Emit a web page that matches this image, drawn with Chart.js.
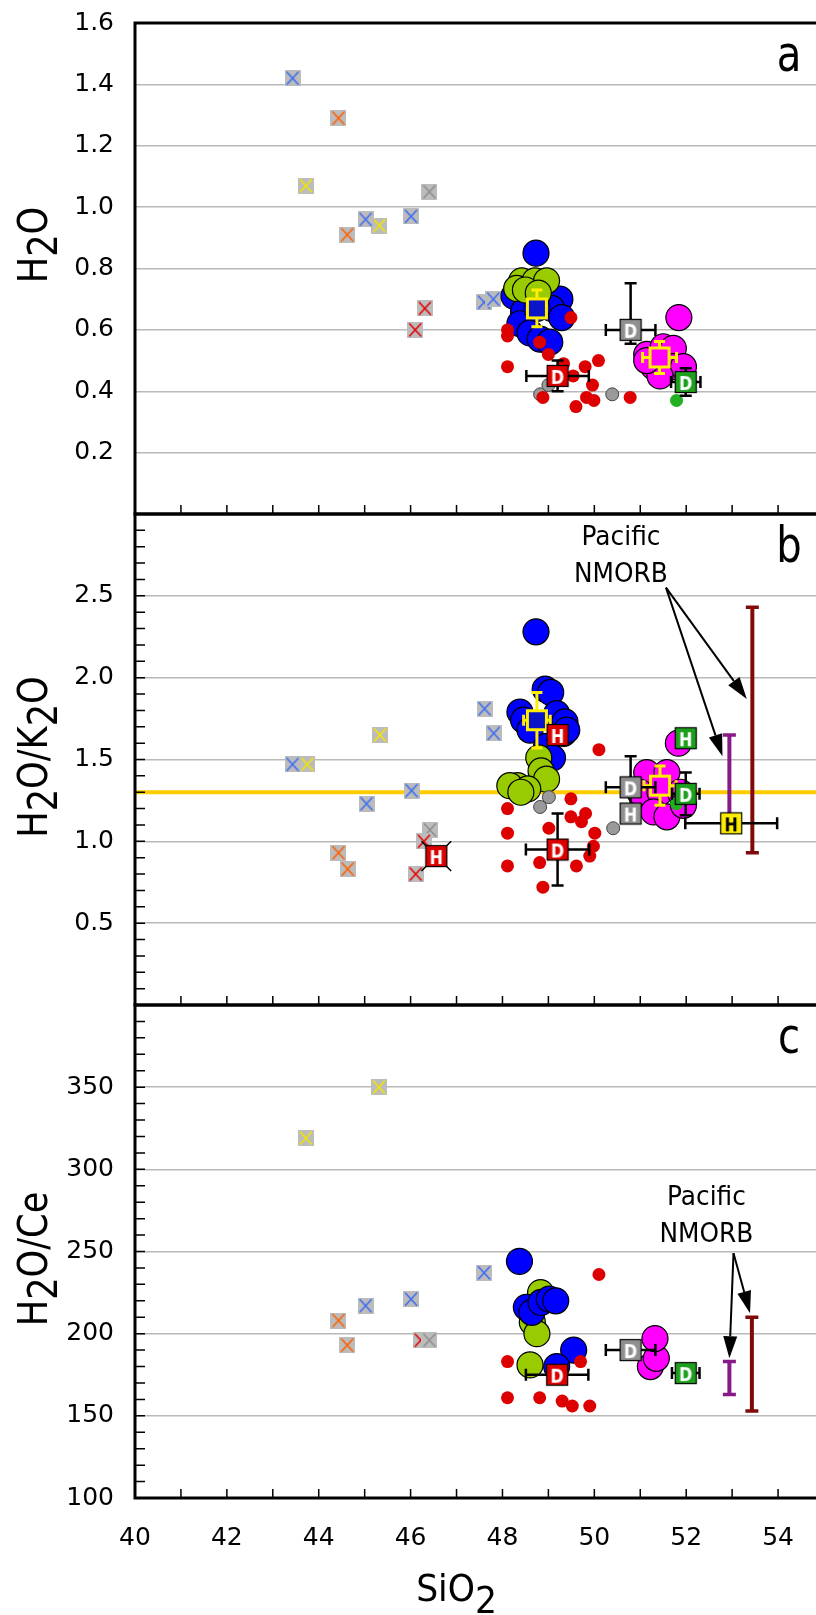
<!DOCTYPE html>
<html>
<head>
<meta charset="utf-8">
<title>H2O, H2O/K2O and H2O/Ce vs SiO2</title>
<script src="https://cdn.jsdelivr.net/npm/chart.js@4.4.1/dist/chart.umd.min.js"></script>
<style>
  html, body { margin: 0; padding: 0; background: #fff; overflow: hidden; }
  #wrap { position: relative; width: 824px; height: 1615px; }
  #wrap canvas { position: absolute; left: 0; }
</style>
</head>
<body>
<div id="wrap">
  <canvas id="chartA" width="824" height="520" style="top:0"></canvas>
  <canvas id="chartB" width="824" height="506" style="top:506px"></canvas>
  <canvas id="chartC" width="824" height="617" style="top:998px"></canvas>
</div>
<script>
// ---- axes ----
const sio2Ticks = [40, 42, 44, 46, 48, 50, 52, 54];
const h2oTicks = [0.2, 0.4, 0.6, 0.8, 1.0, 1.2, 1.4, 1.6];
const h2oK2oTicks = [0.5, 1.0, 1.5, 2.0, 2.5];
const h2oCeTicks = [100, 150, 200, 250, 300, 350];

// ---- panel a: H2O ----
const aXBlue = [[43.43, 1.42], [45.02, 0.96], [46.01, 0.97], [47.60, 0.69], [47.80, 0.70]];
const aXOrange = [[44.43, 1.29], [44.62, 0.91]];
const aXYellow = [[43.72, 1.07], [45.32, 0.94]];
const aXGray = [[46.41, 1.05]];
const aXRed = [[46.31, 0.67], [46.10, 0.60]];
const aBlue = [[48.73, 0.85], [48.25, 0.71], [49.25, 0.70], [48.46, 0.66], [49.07, 0.67], [49.29, 0.64],
  [48.38, 0.62], [48.60, 0.59], [48.82, 0.57], [49.03, 0.56], [48.75, 0.67]];
const aGreen = [[48.42, 0.76], [48.71, 0.76], [48.96, 0.76], [48.31, 0.735], [48.50, 0.73], [48.78, 0.72]];
const aGray = [[48.82, 0.39], [49.00, 0.42], [50.39, 0.39]];
const aRed = [[48.11, 0.60], [48.11, 0.58], [49.49, 0.64], [48.81, 0.56], [49.00, 0.52], [48.11, 0.48],
  [49.33, 0.49], [49.80, 0.48], [50.09, 0.50], [49.96, 0.42], [49.83, 0.38], [49.99, 0.37],
  [49.60, 0.35], [48.88, 0.38], [50.78, 0.38], [49.54, 0.45]];
const aMagenta = [[51.84, 0.64], [51.14, 0.52], [51.50, 0.545], [51.72, 0.54], [51.29, 0.48],
  [51.72, 0.48], [51.94, 0.48], [51.43, 0.45], [51.14, 0.50]];
const aGreenDot = [[51.79, 0.37]];
// [SiO2, value, SiO2 error, value error]
const aMeanBlue = [[48.75, 0.67, 0, 0.06]];
const aMeanMagenta = [[51.42, 0.51, 0.37, 0.052]];
// [SiO2, value, label, SiO2 error, value error (or [minus, plus])]
const aRedSq = [[49.20, 0.45, 'D', 0.68, 0.05]];
const aGraySq = [[50.79, 0.60, 'D', 0.54, [0.045, 0.152]]];
const aGreenSq = [[51.99, 0.43, 'D', 0.32, 0.045]];

// ---- panel b: H2O/K2O ----
const bXBlue = [[43.43, 1.47], [45.04, 1.23], [46.02, 1.31], [47.61, 1.81], [47.81, 1.66]];
const bXYellow = [[43.75, 1.47], [45.33, 1.65]];
const bXOrange = [[44.43, 0.93], [44.63, 0.83]];
const bXGray = [[46.42, 1.07]];
const bXRed = [[46.29, 1.00], [46.11, 0.80]];
const bXBlack = [[46.56, 0.91]];
const bBlue = [[48.73, 2.28], [48.93, 1.93], [49.05, 1.91], [48.38, 1.79], [49.18, 1.78], [49.36, 1.73],
  [48.46, 1.74], [48.60, 1.68], [49.33, 1.66], [49.40, 1.68], [48.96, 1.58], [49.09, 1.51]];
const bGreen = [[48.79, 1.51], [48.84, 1.43], [48.96, 1.38], [48.33, 1.34], [48.16, 1.34], [48.55, 1.32], [48.40, 1.30]];
const bGray = [[49.01, 1.27], [48.82, 1.21], [50.41, 1.08]];
const bRed = [[48.11, 1.20], [48.11, 1.05], [48.11, 0.85], [49.49, 1.26], [49.49, 1.15], [49.81, 1.17],
  [49.72, 1.12], [50.01, 1.05], [49.98, 0.97], [49.90, 0.91], [49.61, 0.85], [48.81, 0.87],
  [49.01, 1.08], [50.10, 1.56], [48.88, 0.72]];
const bMagenta = [[51.83, 1.60], [51.14, 1.42], [51.58, 1.42], [50.99, 1.30], [51.43, 1.30], [51.87, 1.30],
  [51.29, 1.18], [51.58, 1.15], [51.94, 1.22]];
const bGreenDot = [[51.79, 1.23]];
const bMeanBlue = [[48.75, 1.74, 0.29, 0.17]];
const bMeanMagenta = [[51.43, 1.34, 0.35, 0.12]];
const bRedSq = [[46.56, 0.91, 'H', 0, 0], [49.20, 1.65, 'H', 0, 0], [49.20, 0.95, 'D', 0.69, 0.22]];
const bGraySq = [[50.79, 1.33, 'D', 0.54, 0.19], [50.79, 1.17, 'H', 0, 0]];
const bGreenSq = [[51.99, 1.29, 'D', 0.30, 0.13], [51.99, 1.63, 'H', 0, 0]];
const bYellowSq = [[52.98, 1.11, 'H', 1.0, 0]];
const bRef = 1.3;
// Pacific NMORB ranges: [SiO2, low, high]
const bNmorb = [[52.94, 1.11, 1.65], [53.44, 0.93, 2.43]];

// ---- panel c: H2O/Ce ----
const cXYellow = [[45.31, 350], [43.72, 319]];
const cXBlue = [[45.02, 217], [46.01, 221], [47.60, 237]];
const cXOrange = [[44.43, 208], [44.62, 193]];
const cXGray = [[46.41, 196]];
const cXRed = [[46.22, 196]];
const cGreen = [[48.83, 225], [48.65, 207], [48.75, 200], [48.60, 181]];
const cBlue = [[48.37, 244], [48.52, 216], [48.64, 213], [48.84, 219], [49.02, 221], [49.16, 220], [49.55, 190], [49.18, 180]];
const cRed = [[48.11, 183], [50.10, 236], [49.70, 183], [48.11, 161], [48.81, 161], [49.30, 159], [49.52, 156], [49.90, 156]];
const cMagenta = [[51.22, 180], [51.35, 185], [51.32, 197]];
const cRedSq = [[49.19, 175, 'D', 0.68, 0]];
const cGraySq = [[50.79, 190, 'D', 0.54, 0]];
const cGreenSq = [[51.99, 176, 'D', 0.30, 0]];
const cNmorb = [[52.94, 163, 183], [53.43, 153, 210]];

const nmorbColors = ['#861a86', '#800a0a'];
const X_BLUE = '#3d6cf5', X_ORANGE = '#ff6000', X_YELLOW = '#f2e600', X_RED = '#e80000', X_GRAY = '#8e8e8e';

Chart.defaults.font.family = '"DejaVu Sans", sans-serif';

// ---- marker sprites ----
const SPRITES = {};
function sprite(key, size, paint) {
  if (!SPRITES[key]) {
    const c = document.createElement('canvas');
    c.width = size; c.height = size;
    paint(c.getContext('2d'), size);
    SPRITES[key] = c;
  }
  return SPRITES[key];
}
function crossMark(color) {
  return sprite('x' + color, 16, (g, s) => {
    g.fillStyle = '#bcbcbc';
    g.fillRect(0, 0, s, s);
    g.strokeStyle = color;
    g.lineWidth = 1.6;
    g.beginPath();
    g.moveTo(2, 1.5); g.lineTo(s - 2, s - 1.5);
    g.moveTo(s - 2, 1.5); g.lineTo(2, s - 1.5);
    g.stroke();
  });
}
function letterMark(fill, ink, letter) {
  return sprite('l' + fill + letter, 24, (g, s) => {
    g.fillStyle = fill;
    g.fillRect(1, 1, s - 2, s - 2);
    g.strokeStyle = '#000';
    g.lineWidth = 1.2;
    g.strokeRect(1.5, 1.5, s - 3, s - 3);
    g.translate(s / 2, s / 2);
    g.scale(0.8, 1);
    g.fillStyle = ink;
    g.font = 'bold 20px "DejaVu Sans"';
    g.textAlign = 'center';
    g.fillText(letter, 0, 7.5);
  });
}
function meanMark(fill) {
  return sprite('m' + fill, 26, (g, s) => {
    g.fillStyle = fill;
    g.fillRect(3, 3, s - 6, s - 6);
    g.strokeStyle = '#ffee00';
    g.lineWidth = 3;
    g.strokeRect(3.5, 3.5, s - 7, s - 7);
  });
}

// ---- dataset builders ----
const pts = arr => arr.map(([x, y]) => ({ x, y }));
const crosses = (arr, color) => ({ data: pts(arr), pointStyle: crossMark(color), pointRadius: 8 });
const bareX = (arr, color) => ({ data: pts(arr), pointStyle: 'crossRot', pointRadius: 21, pointBorderColor: color, pointBorderWidth: 1.5 });
const circles = (arr, fill) => ({ data: pts(arr), pointRadius: 13, pointBackgroundColor: fill, pointBorderColor: '#000', pointBorderWidth: 1.2 });
const dots = (arr, fill, edge) => ({ data: pts(arr), pointRadius: 6.5, pointBackgroundColor: fill, pointBorderColor: edge || fill, pointBorderWidth: edge ? 1 : 0 });
const means = (arr, fill) => ({
  data: arr.map(([x, y, xe, ye]) => ({ x, y, xe, ye })),
  pointStyle: meanMark(fill), pointRadius: 12, barColor: '#ffee00', barWidth: 3, capHalf: 5.5
});
const lettered = (arr, fill, ink) => ({
  data: arr.map(([x, y, t, xe, ye]) => ({ x, y, t, xe, ye })),
  pointStyle: c => (c.raw ? letterMark(fill, ink || '#fff', c.raw.t) : 'rect'),
  pointRadius: 11, barColor: '#000', barWidth: 2.5, capHalf: 6
});

function subWidth(ctx, text) { return ctx.measureText(text.replace(/_/g, '')).width; }
// '_' lowers the following character
function subText(ctx, text, x, y, drop) {
  for (let i = 0; i < text.length; i++) {
    let ch = text[i], dy = 0;
    if (ch === '_') { ch = text[++i]; dy = drop; }
    ctx.fillText(ch, x, y + dy);
    x += ctx.measureText(ch).width;
  }
}
function arrow(ctx, x0, y0, x1, y1) {
  const ang = Math.atan2(y1 - y0, x1 - x0), len = 22, half = 7;
  const bx = x1 - len * Math.cos(ang), by = y1 - len * Math.sin(ang);
  ctx.lineWidth = 2;
  ctx.beginPath(); ctx.moveTo(x0, y0); ctx.lineTo(bx, by); ctx.stroke();
  ctx.beginPath();
  ctx.moveTo(x1, y1);
  ctx.lineTo(bx + half * Math.sin(ang), by - half * Math.cos(ang));
  ctx.lineTo(bx - half * Math.sin(ang), by + half * Math.cos(ang));
  ctx.closePath(); ctx.fill();
}

function panelDecor(p) {
  return {
    id: 'decor' + p.letter,
    beforeDatasetsDraw(chart) {
      const { ctx, chartArea: a, scales: { x, y } } = chart;
      ctx.save();
      ctx.beginPath(); ctx.rect(a.left, a.top, a.width, a.height); ctx.clip();
      if (p.ref != null) {
        const py = y.getPixelForValue(p.ref);
        ctx.strokeStyle = '#ffcc00'; ctx.lineWidth = 4;
        ctx.beginPath(); ctx.moveTo(a.left, py); ctx.lineTo(a.right, py); ctx.stroke();
      }
      (p.nmorb || []).forEach(([vx, lo, hi], i) => {
        const px = x.getPixelForValue(vx), y0 = y.getPixelForValue(lo), y1 = y.getPixelForValue(hi);
        ctx.strokeStyle = nmorbColors[i];
        ctx.lineWidth = 4;
        ctx.beginPath(); ctx.moveTo(px, y0); ctx.lineTo(px, y1); ctx.stroke();
        ctx.lineWidth = 3.5;
        ctx.beginPath();
        ctx.moveTo(px - 6.5, y0); ctx.lineTo(px + 6.5, y0);
        ctx.moveTo(px - 6.5, y1); ctx.lineTo(px + 6.5, y1);
        ctx.stroke();
      });
      ctx.restore();
    },
    // error bars go under their own markers
    beforeDatasetDraw(chart, args) {
      const ds = chart.data.datasets[args.index];
      if (!ds.barColor) return;
      const { ctx, scales: { x, y } } = chart;
      const k = ds.capHalf;
      ctx.save();
      ctx.strokeStyle = ds.barColor;
      ctx.lineWidth = ds.barWidth;
      ctx.beginPath();
      ds.data.forEach(d => {
        const px = x.getPixelForValue(d.x), py = y.getPixelForValue(d.y);
        if (d.xe) {
          const l = x.getPixelForValue(d.x - d.xe), r = x.getPixelForValue(d.x + d.xe);
          ctx.moveTo(l, py); ctx.lineTo(r, py);
          ctx.moveTo(l, py - k); ctx.lineTo(l, py + k);
          ctx.moveTo(r, py - k); ctx.lineTo(r, py + k);
        }
        if (d.ye) {
          const [lo, hi] = Array.isArray(d.ye) ? d.ye : [d.ye, d.ye];
          const b = y.getPixelForValue(d.y - lo), t = y.getPixelForValue(d.y + hi);
          ctx.moveTo(px, b); ctx.lineTo(px, t);
          ctx.moveTo(px - k, b); ctx.lineTo(px + k, b);
          ctx.moveTo(px - k, t); ctx.lineTo(px + k, t);
        }
      });
      ctx.stroke();
      ctx.restore();
    },
    afterDraw(chart) {
      const { ctx, chartArea: a, scales: { x, y } } = chart;
      ctx.save();
      ctx.strokeStyle = '#000';
      ctx.fillStyle = '#000';

      // inward ticks on the SiO2 axis and minor ticks on the left axis
      ctx.lineWidth = 1.5;
      ctx.beginPath();
      for (let v = 41; v <= 55; v++) {
        const px = x.getPixelForValue(v);
        ctx.moveTo(px, a.bottom); ctx.lineTo(px, a.bottom - 9);
      }
      if (p.minor) {
        const n = Math.round((p.max - p.min) / p.minor);
        for (let i = 1; i < n; i++) {
          const py = y.getPixelForValue(p.min + i * p.minor);
          ctx.moveTo(a.left, py); ctx.lineTo(a.left + 10, py);
        }
      }
      ctx.stroke();

      // frame
      ctx.lineWidth = 3;
      ctx.beginPath();
      ctx.moveTo(a.left, a.top - 1.5); ctx.lineTo(a.left, a.bottom + 1.5);
      ctx.moveTo(a.left, a.top); ctx.lineTo(a.right, a.top);
      ctx.moveTo(a.left, a.bottom); ctx.lineTo(a.right, a.bottom);
      ctx.stroke();

      // y title
      ctx.textAlign = 'left';
      ctx.textBaseline = 'alphabetic';
      ctx.font = '40px "DejaVu Sans"';
      ctx.save();
      ctx.translate(47, p.titleY);
      ctx.rotate(-Math.PI / 2);
      ctx.scale(0.88, 1);
      subText(ctx, p.title, -subWidth(ctx, p.title) / 2, 0, 10);
      ctx.restore();

      // panel letter
      ctx.save();
      ctx.translate(a.right - 35, a.top + 48);
      ctx.scale(0.82, 1);
      ctx.font = '49px "DejaVu Sans"';
      ctx.textAlign = 'center';
      ctx.fillText(p.letter, 0, 0);
      ctx.restore();

      // Pacific NMORB callout
      if (p.note) {
        const n = p.note;
        ctx.font = '27px "DejaVu Sans"';
        ctx.textAlign = 'center';
        n.lines.forEach(([txt, vy]) => {
          ctx.save();
          ctx.translate(x.getPixelForValue(n.x), y.getPixelForValue(vy));
          ctx.scale(0.92, 1);
          ctx.fillText(txt, 0, 0);
          ctx.restore();
        });
        const ox = x.getPixelForValue(n.from[0]), oy = y.getPixelForValue(n.from[1]);
        n.to.forEach(([tx, ty]) => arrow(ctx, ox, oy, x.getPixelForValue(tx), y.getPixelForValue(ty)));
      }

      // SiO2 tick labels and title under the last panel
      if (p.xLabels) {
        ctx.font = '25px "DejaVu Sans"';
        ctx.textAlign = 'center';
        ctx.textBaseline = 'middle';
        sio2Ticks.forEach(v => ctx.fillText(String(v), x.getPixelForValue(v), a.bottom + 40));
        ctx.textBaseline = 'alphabetic';
        ctx.textAlign = 'left';
        ctx.font = '38px "DejaVu Sans"';
        ctx.save();
        ctx.translate(x.getPixelForValue(47), a.bottom + 103);
        ctx.scale(0.91, 1);
        subText(ctx, 'SiO_2', -subWidth(ctx, 'SiO_2') / 2, 0, 12);
        ctx.restore();
      }
      ctx.restore();
    }
  };
}

function buildPanel(p) {
  const datasets = p.layers.map((ds, i) => Object.assign({ order: -i }, ds));
  return new Chart(document.getElementById(p.id), {
    type: 'scatter',
    data: { datasets },
    options: {
      responsive: false,
      animation: false,
      events: [],
      layout: { autoPadding: false, padding: { top: p.padTop, bottom: p.padBottom, left: 0, right: 0 } },
      plugins: { legend: { display: false }, tooltip: { enabled: false } },
      scales: {
        x: { type: 'linear', min: 40, max: 55, display: false },
        y: {
          type: 'linear', min: p.min, max: p.max,
          afterBuildTicks: s => { s.ticks = p.ticks.map(v => ({ value: v })); },
          afterFit: s => { s.width = 135; s.paddingTop = 0; s.paddingBottom = 0; },
          grid: { color: '#b9b9b9', lineWidth: 1.5, drawTicks: false },
          border: { display: false },
          ticks: { color: '#000', font: { size: 25 }, padding: 21, autoSkip: false,
            callback: v => v.toFixed(p.digits) }
        }
      }
    },
    plugins: [panelDecor(p)]
  });
}

buildPanel({
  id: 'chartA', letter: 'a', title: 'H_2O', titleY: 245,
  min: 0, max: 1.6, ticks: h2oTicks, digits: 1, minor: 0,
  padTop: 23, padBottom: 6, xLabels: false,
  layers: [
    crosses(aXGray, X_GRAY), crosses(aXOrange, X_ORANGE), crosses(aXYellow, X_YELLOW),
    crosses(aXRed, X_RED), crosses(aXBlue, X_BLUE),
    circles(aBlue, '#0000ff'), circles(aGreen, '#99cc00'),
    dots(aGray, '#9a9a9a', '#444'), dots(aRed, '#dd0000'),
    circles(aMagenta, '#ff00ff'), dots(aGreenDot, '#22b022'),
    means(aMeanBlue, '#0a14c8'), means(aMeanMagenta, '#ff00ff'),
    lettered(aRedSq, '#dd0000'), lettered(aGraySq, '#909090'), lettered(aGreenSq, '#1ea01e')
  ]
});

buildPanel({
  id: 'chartB', letter: 'b', title: 'H_2O/K_2O', titleY: 251,
  min: 0, max: 3.0, ticks: h2oK2oTicks, digits: 1, minor: 0.1,
  padTop: 8, padBottom: 7, xLabels: false,
  ref: bRef, nmorb: bNmorb,
  note: { x: 50.58, lines: [['Pacific', 2.81], ['NMORB', 2.585]], from: [51.56, 2.55], to: [[52.79, 1.52], [53.32, 1.87]] },
  layers: [
    crosses(bXGray, X_GRAY), crosses(bXOrange, X_ORANGE), crosses(bXYellow, X_YELLOW),
    crosses(bXRed, X_RED), crosses(bXBlue, X_BLUE), bareX(bXBlack, '#000'),
    circles(bBlue, '#0000ff'), circles(bGreen, '#99cc00'),
    dots(bGray, '#9a9a9a', '#444'), dots(bRed, '#dd0000'),
    circles(bMagenta, '#ff00ff'), dots(bGreenDot, '#22b022'),
    means(bMeanBlue, '#0a14c8'), means(bMeanMagenta, '#ff00ff'),
    lettered(bRedSq, '#dd0000'), lettered(bGraySq, '#909090'), lettered(bGreenSq, '#1ea01e'),
    lettered(bYellowSq, '#ffee00', '#000')
  ]
});

buildPanel({
  id: 'chartC', letter: 'c', title: 'H_2O/Ce', titleY: 261,
  min: 100, max: 400, ticks: h2oCeTicks, digits: 0, minor: 10,
  padTop: 7, padBottom: 117, xLabels: true,
  nmorb: cNmorb,
  note: { x: 52.44, lines: [['Pacific', 278], ['NMORB', 255.5]], from: [53.03, 249], to: [[52.94, 185], [53.39, 212.5]] },
  layers: [
    crosses(cXRed, X_RED), crosses(cXGray, X_GRAY), crosses(cXOrange, X_ORANGE),
    crosses(cXYellow, X_YELLOW), crosses(cXBlue, X_BLUE),
    circles(cGreen, '#99cc00'), circles(cBlue, '#0000ff'),
    dots(cRed, '#dd0000'), circles(cMagenta, '#ff00ff'),
    lettered(cRedSq, '#dd0000'), lettered(cGraySq, '#909090'), lettered(cGreenSq, '#1ea01e')
  ]
});
</script>
</body>
</html>
